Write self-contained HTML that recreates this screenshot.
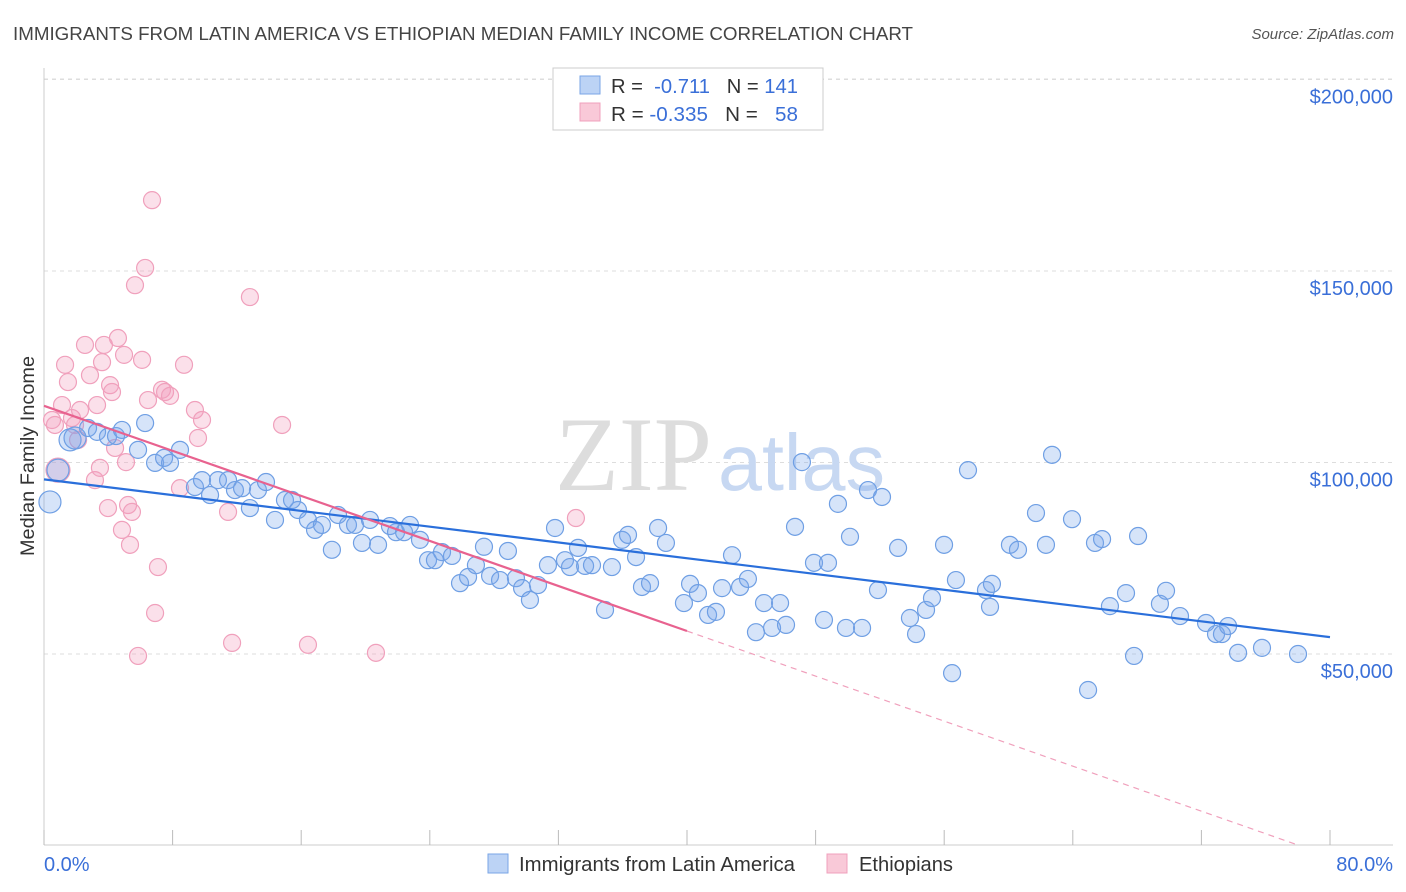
<!DOCTYPE html>
<html><head><meta charset="utf-8"><style>
body{margin:0;background:#fff;font-family:"Liberation Sans",sans-serif}
svg{display:block}
</style></head><body>
<svg id="chart" width="1406" height="892" xmlns="http://www.w3.org/2000/svg">
<text x="13" y="40" font-size="18.5" fill="#444" textLength="900" lengthAdjust="spacingAndGlyphs">IMMIGRANTS FROM LATIN AMERICA VS ETHIOPIAN MEDIAN FAMILY INCOME CORRELATION CHART</text>
<text x="1394" y="39" font-size="15" fill="#555" text-anchor="end" font-style="italic">Source: ZipAtlas.com</text>
<g id="grid"></g>
<g>
<text x="555" y="490" font-size="106" fill="#ddd" font-family="Liberation Serif" textLength="157" lengthAdjust="spacingAndGlyphs">ZIP</text>
<text x="718" y="490" font-size="80" fill="#c7d8f2" font-family="Liberation Sans" textLength="167" lengthAdjust="spacingAndGlyphs">atlas</text>
</g>
<g id="axes"></g>
<g id="pink"></g>
<g id="blue"></g>
<g id="trends"></g>
<text transform="translate(34,456) rotate(-90)" font-size="19" fill="#333" text-anchor="middle" textLength="200" lengthAdjust="spacingAndGlyphs">Median Family Income</text>
<g>
<rect x="553" y="68" width="270" height="62" fill="#fff" stroke="#ccc"/>
<rect x="580" y="76" width="20" height="18" fill="#bcd3f5" stroke="#7aa6e6"/>
<rect x="580" y="103" width="20" height="18" fill="#f9c9d8" stroke="#f0a0bc"/>
<text x="611" y="93" font-size="20" fill="#333" textLength="187" lengthAdjust="spacingAndGlyphs">R = <tspan fill="#3a6fd8">&#160;-0.711</tspan>&#160;&#160;&#160;N = <tspan fill="#3a6fd8">141</tspan></text>
<text x="611" y="121" font-size="20" fill="#333" textLength="187" lengthAdjust="spacingAndGlyphs">R = <tspan fill="#3a6fd8">-0.335</tspan>&#160;&#160;&#160;N = <tspan fill="#3a6fd8">&#160;&#160;58</tspan></text>
</g>
<g>
<rect x="488" y="854" width="20" height="19" fill="#bcd3f5" stroke="#7aa6e6"/>
<text x="519" y="871" font-size="20" fill="#333" textLength="276" lengthAdjust="spacingAndGlyphs">Immigrants from Latin America</text>
<rect x="827" y="854" width="20" height="19" fill="#f9c9d8" stroke="#f0a0bc"/>
<text x="859" y="871" font-size="20" fill="#333" textLength="94" lengthAdjust="spacingAndGlyphs">Ethiopians</text>
</g>
</svg>
<script>
const yTicks=[50000,100000,150000,200000];
const yTickLabels=["$50,000","$100,000","$150,000","$200,000"];
const xTickVals=[0,8,16,24,32,40,48,56,64,72,80];
const blueX=[0.37,0.87,1.62,1.93,2.74,3.30,3.98,4.48,4.85,5.85,6.29,6.91,7.47,7.84,8.46,9.39,9.83,10.33,10.82,11.45,11.88,12.32,12.81,13.31,13.81,14.37,14.99,15.43,15.80,16.42,16.86,17.29,17.91,18.29,18.91,19.35,19.78,20.28,20.78,21.52,21.90,22.40,22.77,23.39,23.89,24.32,24.76,25.38,25.88,26.38,26.87,27.37,27.75,28.37,28.86,29.36,29.74,30.23,30.73,31.35,31.79,32.41,32.72,33.22,33.66,34.09,34.90,35.33,35.96,36.33,36.83,37.20,37.70,38.20,38.69,39.81,40.19,40.68,41.31,41.80,42.18,42.80,43.30,43.79,44.29,44.79,45.29,45.79,46.16,46.72,47.15,47.90,48.52,48.77,49.39,50.14,49.89,50.89,51.26,51.88,52.13,53.13,53.87,54.25,54.87,55.24,55.99,56.49,56.73,57.48,58.60,58.97,58.85,60.09,60.59,61.71,62.33,62.71,63.95,64.95,65.38,65.82,66.31,67.31,67.81,68.06,69.42,69.80,70.67,72.29,72.91,73.28,73.66,74.28,75.77,78.01];
const blueY=[89.7,98.0,105.9,106.4,109.0,108.0,106.7,106.9,108.5,103.3,110.3,99.9,101.2,99.9,103.3,93.6,95.4,91.5,95.4,95.4,92.8,93.3,88.1,92.8,94.9,85.0,90.2,90.2,87.6,85.0,82.4,83.7,77.2,86.3,83.7,83.7,79.0,85.0,78.5,83.4,81.8,81.8,83.7,79.8,74.5,74.5,76.6,75.6,68.5,70.1,73.2,78.0,70.4,69.3,76.9,69.8,67.2,64.1,68.0,73.2,82.9,74.5,72.7,77.7,73.0,73.2,61.5,72.7,79.8,81.1,75.3,67.5,68.5,82.9,79.0,63.3,68.3,65.9,60.2,61.0,67.2,75.8,67.5,69.6,55.7,63.3,56.8,63.3,57.6,83.2,100.1,73.8,58.9,73.8,89.2,80.6,56.8,56.8,92.8,66.7,91.0,77.7,59.4,55.2,61.5,64.6,78.5,45.0,69.3,98.0,66.7,68.3,62.3,78.5,77.2,86.8,78.5,102.0,85.2,40.6,79.0,80.0,62.5,65.9,49.5,80.8,63.1,66.5,59.9,58.1,55.2,55.2,57.3,50.3,51.6,50.0];
const pinkX=[0.50,0.68,0.87,1.12,1.31,1.49,1.74,1.93,2.12,2.24,2.55,2.86,3.17,3.30,3.48,3.61,3.73,3.98,4.11,4.23,4.42,4.60,4.85,4.98,5.10,5.23,5.35,5.47,5.66,5.85,6.10,6.29,6.47,6.72,6.91,7.09,7.34,7.53,7.84,8.46,8.71,9.39,9.58,9.83,11.45,11.70,12.81,14.81,16.42,20.65,33.09];
const pinkY=[111.1,109.8,98.0,115.0,125.5,121.0,111.6,109.8,105.9,113.7,130.7,122.8,95.4,115.0,98.6,126.2,130.7,88.1,120.2,118.4,103.8,132.5,82.4,128.1,100.1,88.9,78.5,87.1,146.3,49.5,126.8,150.8,116.3,168.5,60.7,72.7,119.0,118.4,117.4,93.3,125.5,113.7,106.4,111.1,87.1,52.9,143.2,109.8,52.4,50.3,85.5];
const blueTrend=[95.6,54.4];
const pinkTrend=[114.8,-2.8];
const pinkSolidEnd=40;
const ns="http://www.w3.org/2000/svg";
const X=v=>44+v*(1330-44)/80;
const Y=v=>845.5-v*(191.5/50);
function mk(tag,attrs,parent){const e=document.createElementNS(ns,tag);for(const k in attrs)e.setAttribute(k,attrs[k]);parent.appendChild(e);return e;}
const grid=document.getElementById('grid'),axes=document.getElementById('axes');
yTicks.forEach((t,i)=>{
 const l=mk('line',{x1:44,x2:1393,y1:Y(t/1000),y2:Y(t/1000),stroke:'#ddd','stroke-dasharray':'4,4'},grid);
 
 
 const tx=mk('text',{x:1393,y:Y(t/1000)+24,'font-size':20,fill:'#3a6fd8','text-anchor':'end'},axes);
 tx.textContent=yTickLabels[i];
 
 
});
mk('line',{x1:44,x2:1393,y1:79,y2:79,stroke:'#ddd','stroke-dasharray':'4,4'},grid);
mk('line',{x1:44,x2:44,y1:68,y2:845,stroke:'#ccc'},axes);
mk('line',{x1:44,x2:1393,y1:845,y2:845,stroke:'#ccc'},axes);
xTickVals.forEach(v=>{
 const t=mk('line',{x1:X(v),x2:X(v),y1:830,y2:845,stroke:'#bbb'},axes);
 
 
});
const x0=mk('text',{x:44,y:871,'font-size':20,fill:'#3a6fd8'},axes);x0.textContent='0.0%';


const x1=mk('text',{x:1393,y:871,'font-size':20,fill:'#3a6fd8','text-anchor':'end'},axes);x1.textContent='80.0%';


const pg=document.getElementById('pink'),bg=document.getElementById('blue');
pinkX.forEach((v,i)=>{
 const c=mk('circle',{cx:X(v),cy:Y(pinkY[i]),r:i==2?12:8.5,fill:'rgba(244,160,190,0.32)',stroke:'#f0a0bc','stroke-width':1.2},pg);
 
 
});
blueX.forEach((v,i)=>{
 const c=mk('circle',{cx:X(v),cy:Y(blueY[i]),r:i<4?11:8.5,fill:'rgba(120,165,235,0.3)',stroke:'#6f9fe4','stroke-width':1.2},bg);
 
 
});
const tg=document.getElementById('trends');
const bt=mk('line',{x1:X(0),y1:Y(blueTrend[0]),x2:X(80),y2:Y(blueTrend[1]),stroke:'#2a6fdb','stroke-width':2.2},tg);


const pAt=v=>pinkTrend[0]+(pinkTrend[1]-pinkTrend[0])*v/80;
const zeroX=80*pinkTrend[0]/(pinkTrend[0]-pinkTrend[1]);
const ps=mk('line',{x1:X(0),y1:Y(pAt(0)),x2:X(pinkSolidEnd),y2:Y(pAt(pinkSolidEnd)),stroke:'#e8628f','stroke-width':2.2},tg);


const pd=mk('line',{x1:X(pinkSolidEnd),y1:Y(pAt(pinkSolidEnd)),x2:X(zeroX),y2:Y(0),stroke:'#f0a0bc','stroke-width':1.2,'stroke-dasharray':'6,5'},tg);


</script>
</body></html>
